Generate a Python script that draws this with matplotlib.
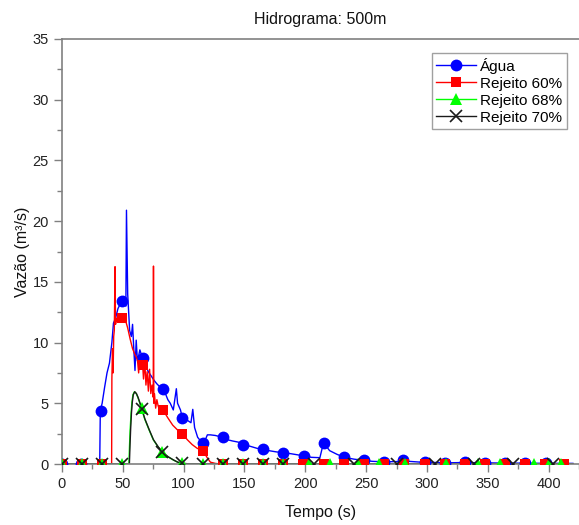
import matplotlib
matplotlib.use("Agg")
import matplotlib.pyplot as plt
from matplotlib.lines import Line2D

plt.rcParams['font.family'] = ['Liberation Sans', 'DejaVu Sans']

# ---- Data ----
agua_t = [0, 31, 31.5, 33, 35, 37, 39, 41, 42.3, 44, 46, 49, 51, 52.5, 53, 54, 55.6, 57, 58, 59, 60,
          61, 62, 63, 64, 66.3, 68, 70, 71.6, 73, 75.6, 78, 80, 83, 85, 87, 89, 91.5, 94, 95, 97.4,
          99, 103, 106, 107.5, 109, 111.5, 115.5, 117, 119.5, 122, 126, 132, 136, 140, 145, 149, 155,
          160, 165, 170, 176, 182, 188, 194, 199, 205, 212, 215, 220, 226, 232, 240, 248, 255, 265,
          275, 285, 295, 305, 318, 330, 345, 360, 375, 390, 420]
agua_q = [0, 0, 4.4, 5.0, 6.3, 7.5, 8.3, 10.0, 11.6, 12.0, 12.8, 13.4, 13.8, 13.0, 20.9, 14.0, 11.0,
          10.5, 11.5, 9.5, 7.7, 10.2, 8.5, 8.9, 9.4, 8.7, 8.0, 7.8, 7.5, 7.3, 6.9, 6.6, 6.4, 6.15, 5.8,
          5.3, 5.0, 4.45, 6.2, 5.0, 4.45, 3.76, 3.6, 3.4, 4.5, 3.0, 2.2, 1.7, 1.8, 2.4, 2.4, 2.35, 2.2,
          2.0, 1.9, 1.8, 1.6, 1.45, 1.3, 1.2, 1.1, 1.0, 0.93, 0.85, 0.75, 0.66, 0.55, 0.52, 1.76, 1.1,
          0.8, 0.55, 0.4, 0.3, 0.22, 0.18, 0.2, 0.22, 0.15, 0.13, 0.1, 0.12, 0.1, 0.08, 0.07, 0.06, 0.05]
agua_mt = [0, 16, 31.7, 49, 66.3, 83, 99, 115.5, 132, 149, 165, 182, 199, 215, 232, 248, 264.5,
           280.5, 298, 314.5, 331, 347.5, 364, 381, 397.6]
agua_mq = [0, 0, 4.4, 13.4, 8.7, 6.15, 3.76, 1.7, 2.2, 1.6, 1.2, 0.93, 0.66, 1.76, 0.55, 0.3, 0.2,
           0.3, 0.2, 0.12, 0.15, 0.1, 0.08, 0.07, 0.06]

r60_t = [0, 40.8, 41, 41.5, 42, 42.5, 43, 43.6, 44, 45, 47, 49, 52, 54, 56, 58, 60, 62, 63, 64, 66.3,
         67, 68, 69, 70, 71, 72, 73, 74, 75, 75.2, 75.5, 76, 77, 78, 79, 80, 83, 87, 91, 95, 99, 103,
         107, 111, 115.5, 117, 119.5, 122, 126, 130, 420]
r60_q = [0, 0, 7.0, 9.5, 7.5, 10.5, 11.0, 16.25, 11.5, 12.0, 12.1, 12.0, 11.9, 11.2, 10.3, 9.5, 9.0,
         8.6, 7.5, 8.8, 8.15, 7.0, 8.5, 6.5, 7.6, 6.0, 7.8, 5.8, 6.5, 5.5, 16.3, 5.0, 5.8, 4.6, 5.3,
         4.8, 4.5, 4.45, 3.8, 3.2, 2.8, 2.5, 2.0, 1.6, 1.3, 1.1, 0.9, 0.5, 0.15, 0.05, 0, 0]
r60_mt = [0, 16.5, 33, 49, 66.3, 83, 99, 115.5, 132, 149, 165.5, 182, 198.5, 215, 232, 248.5, 265,
          281.5, 298, 314.5, 331, 347.5, 364, 380.5, 397, 413]
r60_mq = [0, 0, 0, 12.0, 8.15, 4.45, 2.5, 1.1, 0, 0, 0, 0, 0, 0, 0, 0, 0, 0, 0, 0, 0, 0, 0, 0, 0, 0]

r68_t = [0, 55.0, 55.5, 56, 56.8, 57.5, 58.3, 59.6, 61, 62.3, 64, 65.5, 68, 71.6, 75, 79, 83, 87,
         91.5, 95, 99, 105, 420]
r68_q = [0, 0, 1.5, 2.8, 4.2, 5.1, 5.7, 5.96, 5.8, 5.5, 5.0, 4.5, 3.7, 2.8, 2.0, 1.4, 0.93, 0.6,
         0.33, 0.15, 0.05, 0.01, 0]
r68_mt = [0, 16.5, 33, 49, 66, 82.5, 99, 115.5, 132, 149, 165.5, 182, 203, 220, 243, 261, 282, 316,
          342, 360, 388, 400, 410]
r68_mq = [0, 0, 0, 0, 4.6, 1.0, 0.05, 0, 0, 0, 0, 0, 0, 0, 0, 0, 0, 0, 0, 0, 0, 0, 0]

r70_t = [0, 55.4, 55.9, 56.4, 57.1, 57.8, 58.6, 59.8, 61.2, 62.5, 64.2, 65.7, 68.2, 71.8, 75.2, 79.2,
         83.2, 87.2, 91.7, 95.2, 99.2, 105, 420]
r70_q = [0, 0, 1.5, 2.8, 4.2, 5.1, 5.7, 5.95, 5.8, 5.5, 5.0, 4.5, 3.7, 2.8, 2.0, 1.4, 0.93, 0.6,
         0.33, 0.15, 0.05, 0.01, 0]
r70_mt = [0, 16.5, 33, 49, 66, 82.5, 99, 115.5, 132, 149, 165.5, 182, 207, 240, 275, 307, 339, 371, 404]
r70_mq = [0, 0, 0, 0, 4.55, 0.95, 0.05, 0, 0, 0, 0, 0, 0, 0, 0, 0, 0, 0, 0]

labels = ['Água', 'Rejeito 60%', 'Rejeito 68%', 'Rejeito 70%']
colors = ['#0000ff', '#ff0000', '#00ff00', '#1a1a1a']
markers = ['o', 's', '^', 'x']
msizes = [8.5, 7.5, 8.5, 8.5]

x_ticks = [0, 50, 100, 150, 200, 250, 300, 350, 400]
y_ticks = [0, 5, 10, 15, 20, 25, 30, 35]

# ---- Figure ----
fig = plt.figure(figsize=(5.79, 5.25), dpi=100)
ax = fig.add_axes([62 / 579, 1 - 464 / 525, 1 - 62 / 579, (464 - 39) / 525])

series = [(agua_t, agua_q, agua_mt, agua_mq),
          (r60_t, r60_q, r60_mt, r60_mq),
          (r68_t, r68_q, r68_mt, r68_mq),
          (r70_t, r70_q, r70_mt, r70_mq)]

handles = []
for (t, q, mt, mq), lab, c, m, ms in zip(series, labels, colors, markers, msizes):
    ax.plot(t, q, color=c, lw=1.0, zorder=2)
    ax.plot(mt, mq, linestyle='none', marker=m, color=c, markersize=ms,
            markeredgewidth=1.2 if m == 'x' else 0.0, zorder=3)
    handles.append(Line2D([], [], color=c, lw=1.0, marker=m, markersize=ms,
                          markeredgewidth=1.2 if m == 'x' else 0.0, label=lab))

ax.set_xlim(0, 413)
ax.set_ylim(0, 35)
ax.set_xticks(x_ticks)
ax.set_yticks(y_ticks)
ax.set_xticks([25 + 50 * i for i in range(9)], minor=True)
ax.set_yticks([2.5 + 5 * i for i in range(7)], minor=True)

spine_c = '#808080'
for s in ['left', 'bottom', 'top']:
    ax.spines[s].set_color(spine_c)
    ax.spines[s].set_linewidth(1.2)
ax.spines['right'].set_visible(False)
ax.tick_params(which='major', direction='out', length=6, width=1.0, color=spine_c,
               labelsize=10.5, labelcolor='#222222', top=False, right=False)
ax.tick_params(which='minor', direction='out', length=3.5, width=1.0, color=spine_c,
               top=False, right=False)

ax.set_xlabel('Tempo (s)', fontsize=11.5, color='#111111', labelpad=10)
ax.set_ylabel('Vazão (m³/s)', fontsize=11.5, color='#111111', labelpad=2)
ax.set_title('Hidrograma: 500m', fontsize=11.5, color='#111111', pad=11)

leg = ax.legend(handles=handles, loc='upper right', bbox_to_anchor=(0.977, 0.967),
                borderaxespad=0, fontsize=11, labelspacing=0.2, handlelength=2.6,
                handletextpad=0.3, borderpad=0.3, fancybox=False, framealpha=1,
                edgecolor='#a0a0a0')
leg.get_frame().set_linewidth(1.0)

fig.savefig('out.png', dpi=100)
